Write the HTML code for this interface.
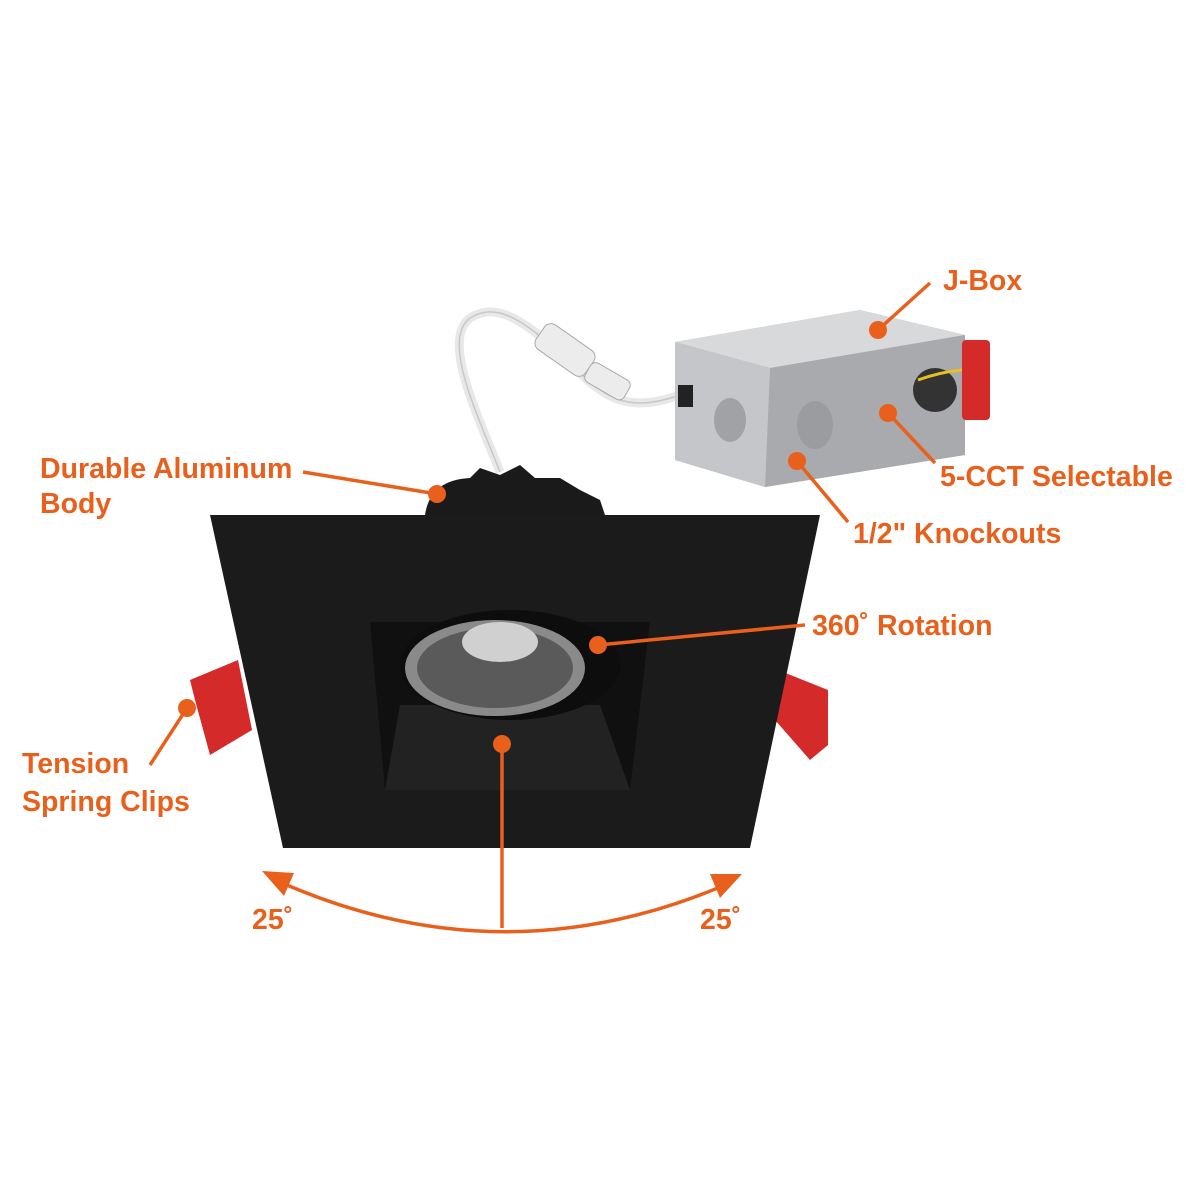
<!DOCTYPE html>
<html><head><meta charset="utf-8"><style>
html,body{margin:0;padding:0;background:#fff;}
svg{display:block}
text{font-family:"Liberation Sans",Arial,sans-serif;font-weight:bold;fill:#E8601C;font-size:28.5px}
</style></head><body>
<svg width="1200" height="1200" viewBox="0 0 1200 1200" xmlns="http://www.w3.org/2000/svg">
<!-- cable -->
<path d="M500 472 C480 420 440 340 470 318 C495 302 520 320 545 340 C570 360 590 390 620 400 C640 406 660 402 680 395" fill="none" stroke="#e8e8e8" stroke-width="9"/>
<path d="M500 472 C480 420 440 340 470 318 C495 302 520 320 545 340 C570 360 590 390 620 400 C640 406 660 402 680 395" fill="none" stroke="#c8c8c8" stroke-width="1.5"/>
<rect x="535" y="335" width="60" height="30" rx="8" fill="#ececec" stroke="#aaa" transform="rotate(35 565 350)"/>
<rect x="585" y="370" width="45" height="22" rx="6" fill="#ececec" stroke="#aaa" transform="rotate(30 607 381)"/>
<!-- J-box -->
<polygon points="675,342 860,310 965,335 965,455 765,487 675,460" fill="#b8babd"/>
<polygon points="675,342 860,310 965,335 770,368" fill="#d8d9db"/>
<polygon points="770,368 965,335 965,455 765,487" fill="#a8aaad"/>
<polygon points="675,342 770,368 765,487 675,460" fill="#c4c6c9"/>
<ellipse cx="730" cy="420" rx="16" ry="22" fill="#a0a2a5"/>
<ellipse cx="815" cy="425" rx="18" ry="24" fill="#9a9c9f"/>
<circle cx="935" cy="390" r="22" fill="#333"/>
<path d="M918 380 Q940 372 962 370" stroke="#e8c020" stroke-width="3" fill="none"/>
<rect x="962" y="340" width="28" height="80" rx="4" fill="#d42a2a"/>
<rect x="678" y="385" width="15" height="22" fill="#222"/>
<!-- heat sink -->
<path d="M425 515 Q430 480 470 478 L480 468 L500 475 L520 465 L535 478 L560 478 L580 490 L600 500 L605 515Z" fill="#1a1a1a"/>
<!-- clips -->
<polygon points="190,680 238,660 252,730 210,755 195,700" fill="#d42a2a"/>
<polygon points="778,670 828,690 828,745 810,760 775,720" fill="#d42a2a"/>
<!-- trim -->
<polygon points="210,515 820,515 750,848 283,848" fill="#1b1b1b"/>
<polygon points="370,622 650,622 630,790 385,790" fill="#101010"/>
<polygon points="400,705 600,705 630,790 385,790" fill="#222"/>
<ellipse cx="510" cy="665" rx="110" ry="55" fill="#0d0d0d"/>
<ellipse cx="495" cy="668" rx="90" ry="48" fill="#8a8a8a"/>
<ellipse cx="495" cy="668" rx="78" ry="40" fill="#5a5a5a"/>
<ellipse cx="500" cy="642" rx="38" ry="20" fill="#d0d0d0"/>
<!-- callouts -->
<g stroke="#E8601C" stroke-width="3.5" fill="none">
<line x1="878" y1="330" x2="930" y2="283"/>
<line x1="888" y1="413" x2="935" y2="463"/>
<line x1="797" y1="461" x2="848" y2="522"/>
<line x1="598" y1="645" x2="805" y2="625"/>
<line x1="303" y1="472" x2="437" y2="494"/>
<line x1="150" y1="765" x2="187" y2="708"/>
<line x1="502" y1="744" x2="502" y2="928"/>
<path d="M280 882 Q502 980 725 885"/>
</g>
<g fill="#E8601C">
<circle cx="878" cy="330" r="9"/><circle cx="888" cy="413" r="9"/><circle cx="797" cy="461" r="9"/>
<circle cx="598" cy="645" r="9"/><circle cx="437" cy="494" r="9"/><circle cx="187" cy="708" r="9"/>
<circle cx="502" cy="744" r="9"/>
<polygon points="262,871 294,873 284,896"/>
<polygon points="742,874 710,874 720,898"/>
</g>
<text x="943" y="290">J-Box</text>
<text x="940" y="486">5-CCT Selectable</text>
<text x="853" y="543">1/2" Knockouts</text>
<text x="812" y="635">360˚ Rotation</text>
<text x="40" y="478">Durable Aluminum</text>
<text x="40" y="513">Body</text>
<text x="22" y="773">Tension</text>
<text x="22" y="811">Spring Clips</text>
<text x="252" y="929">25˚</text>
<text x="700" y="929">25˚</text>
</svg>
</body></html>
